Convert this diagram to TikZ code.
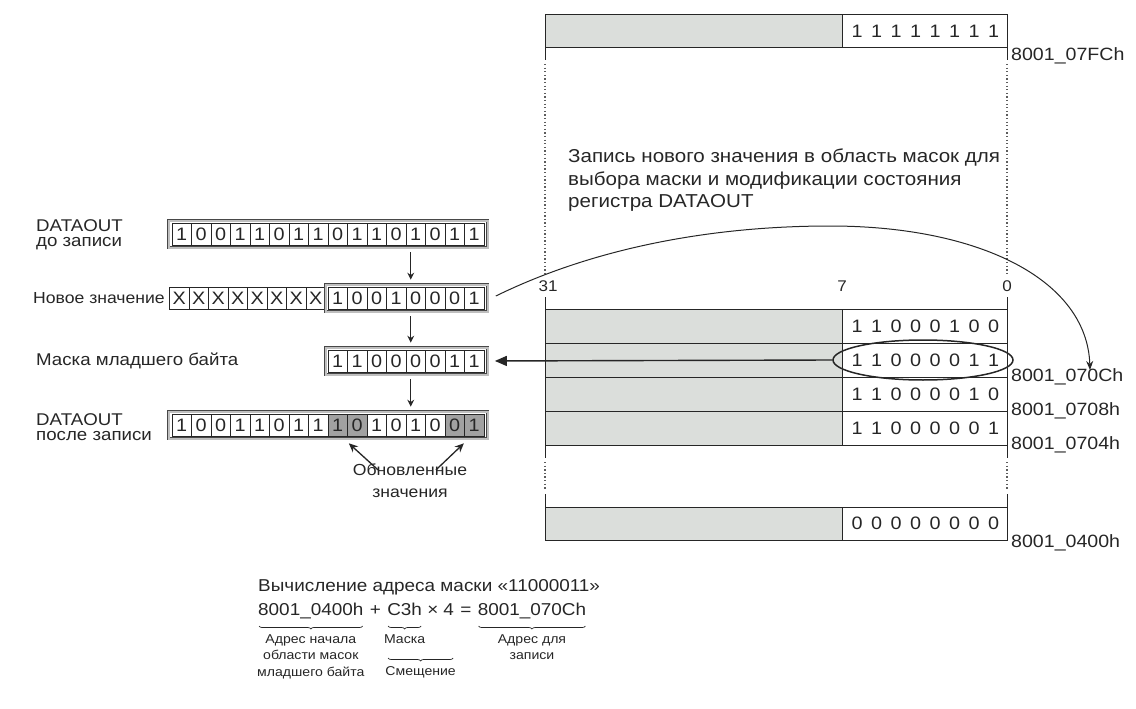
\documentclass[tikz,border=0pt]{standalone}
\usepackage{fontspec}
\setmainfont{Liberation Sans}[FakeStretch=1.1]
\usetikzlibrary{arrows.meta,decorations.pathreplacing,calc,shapes.geometric}
\definecolor{ink}{gray}{0.15}
\definecolor{memgray}{rgb}{0.86,0.87,0.86}
\definecolor{framegray}{gray}{0.75}
\definecolor{hlgray}{gray}{0.63}
\newcommand\memrowdraw[3]{%
  \fill[memgray] (545,#1) rectangle (842,#2);
  \draw[mem] (545,#1) rectangle (1007,#2);
  \draw[mem] (842,#1) -- (842,#2);
  \foreach \d [count=\i] in {#3} \node[dig] at ({857+19.5*(\i-1)},{(#1+#2)/2}) {\d};
}
\begin{document}
\begin{tikzpicture}[x=1pt,y=-1pt,
 lbl/.style={font=\fontsize{17}{15}\selectfont,text=ink,inner sep=0pt},
 note/.style={font=\fontsize{18.7}{22.5}\selectfont,text=ink,inner sep=0pt},
 sm/.style={font=\fontsize{17.2}{18}\selectfont,text=ink,inner sep=0pt},
 tiny/.style={font=\fontsize{12.8}{16.5}\selectfont,text=ink,inner sep=0pt,align=center},
 cell/.style={draw=ink,line width=0.7pt,fill=white,minimum width=19.5pt,minimum height=22pt,inner sep=0pt,font=\fontsize{18}{18}\selectfont,text=ink},
 hl/.style={fill=hlgray},
 nohl/.style={},
 regframe/.style={draw=ink!85,line width=0.7pt,double=framegray,double distance=2pt,fill=white,inner sep=0pt,minimum height=27pt},
 dn/.style={-{Stealth[length=7pt,width=7pt]},line width=1.2pt,draw=ink},
 upar/.style={-{Stealth[length=9pt,width=8pt]},line width=1.3pt,draw=ink},
 harr/.style={-{Triangle[length=12pt,width=10pt]},line width=1.4pt,draw=ink},
 carr/.style={-{Stealth[length=9pt,width=7pt]},line width=1pt,draw=ink},
 mem/.style={draw=ink,line width=1pt},
 dotl/.style={draw=ink!75,line width=1.3pt,dash pattern=on 1.3pt off 2.3pt},
 dig/.style={font=\fontsize{18}{18}\selectfont,text=ink,inner sep=0pt},
 addr/.style={font=\fontsize{17.8}{18}\selectfont,text=ink,inner sep=0pt,anchor=west},
 brc/.style={draw=ink,line width=0.7pt,decorate,decoration={brace,mirror,amplitude=3pt}}
]
\useasboundingbox (0,0) rectangle (1136,709);

% ---------- left: registers ----------
\node[regframe,minimum width=319pt] (r1) at (328,234) {};
\foreach \b [count=\i] in {1,0,0,1,1,0,1,1,0,1,1,0,1,0,1,1}
  \node[cell] (r1c\i) at ({172+19.5*(\i-0.5)},234) {\b};

\foreach \b [count=\i] in {X,X,X,X,X,X,X,X}
  \node[cell] (r2x\i) at ({169.5+19.5*(\i-0.5)},298) {\b};
\node[regframe,minimum width=162pt] (r2) at (406.5,298) {};
\foreach \b [count=\i] in {1,0,0,1,0,0,0,1}
  \node[cell] (r2c\i) at ({328+19.5*(\i-0.5)},298) {\b};

\node[regframe,minimum width=162pt] (r3) at (406.5,361) {};
\foreach \b [count=\i] in {1,1,0,0,0,0,1,1}
  \node[cell] (r3c\i) at ({328+19.5*(\i-0.5)},361) {\b};

\node[regframe,minimum width=319pt] (r4) at (328,425) {};
\foreach \b/\s [count=\i] in {1/nohl,0/nohl,0/nohl,1/nohl,1/nohl,0/nohl,1/nohl,1/nohl,1/hl,0/hl,1/nohl,0/nohl,1/nohl,0/nohl,0/hl,1/hl}
  \node[cell,\s] (r4c\i) at ({172+19.5*(\i-0.5)},425) {\b};

% labels
\node[lbl,anchor=west,align=left] (t1) at (36,235) {DATAOUT\\до записи};
\node[lbl,anchor=east,font=\fontsize{16}{15}\selectfont] (t2) at (165,298) {Новое значение};
\node[lbl,anchor=west] (t3) at (36,361) {Маска младшего байта};
\node[lbl,anchor=west,align=left] (t4) at (36,427) {DATAOUT\\после записи};
\node[lbl,align=center,font=\fontsize{16}{22}\selectfont] (upd) at (410,481) {Обновленные\\значения};

% down arrows
\draw[dn] ($(r1c13.south)+(-5,7)$) -- ($(r2c5.north)+(-5,-7)$);
\draw[dn] ($(r2c5.south)+(-5,7)$) -- ($(r3c5.north)+(-5,-7)$);
\draw[dn] ($(r3c5.south)+(-5,7)$) -- ($(r4c13.north)+(-5,-7)$);
% arrows to updated bits
\draw[upar] ($(upd.north)+(-32,6)$) -- ($(r4c9.south east)+(1,7)$);
\draw[upar] ($(upd.north)+(26,6)$) -- ($(r4c15.south east)+(-1,7)$);

% ---------- right: memory map ----------
\memrowdraw{15}{48}{1,1,1,1,1,1,1,1}
\memrowdraw{309}{343}{1,1,0,0,0,1,0,0}
\memrowdraw{343}{377}{1,1,0,0,0,0,1,1}
\memrowdraw{377}{411}{1,1,0,0,0,0,1,0}
\memrowdraw{411}{445}{1,1,0,0,0,0,0,1}
\memrowdraw{507}{540}{0,0,0,0,0,0,0,0}

\foreach \x in {545,1007}{
  \draw[mem] (\x,48) -- (\x,60);
  \draw[dotl] (\x,64) -- (\x,276);
  \draw[mem] (\x,297) -- (\x,309);
  \draw[mem] (\x,445) -- (\x,458);
  \draw[dotl] (\x,462) -- (\x,490);
  \draw[mem] (\x,494) -- (\x,507);
}
\node[lbl,font=\fontsize{15.5}{15}\selectfont] (b31) at (548,286) {31};
\node[lbl,font=\fontsize{15.5}{15}\selectfont] (b7) at (842,286) {7};
\node[lbl,font=\fontsize{15.5}{15}\selectfont] (b0) at (1007,286) {0};

\node[addr] (a07FC) at (1011,56) {8001\_07FCh};
\node[addr] (a070C) at (1011,377) {8001\_070Ch};
\node[addr] (a0708) at (1011,411) {8001\_0708h};
\node[addr] (a0704) at (1011,445) {8001\_0704h};
\node[addr] (a0400) at (1011,543) {8001\_0400h};

\node[draw=ink,line width=1.5pt,ellipse,minimum width=180pt,minimum height=40pt] (ell) at (923,360) {};

\node[note,anchor=north west,align=left] (nt) at (568,149) {Запись нового значения в область масок для\\выбора маски и модификации состояния\\регистра DATAOUT};

% arrows
\draw[harr,shorten >=7pt] (ell.west) -- (r3.east);
\coordinate (tip) at (1090,370);
\draw[carr] ($(r2.east)+(8,-2)$) .. controls (600,245) and (720,226) .. (830,226)
   .. controls (980,226) and (1087,280) .. (tip);

% ---------- bottom: address computation ----------
\node[sm,anchor=base west] (calc) at (258,591) {Вычисление адреса маски «11000011»};
\node[sm,anchor=base west] (f1) at (258,615) {8001\_0400h};
\node[sm,anchor=base west] (pl) at (f1.base east) {\kern6pt+\kern6pt};
\node[sm,anchor=base west] (f2) at (pl.base east) {C3h};
\node[sm,anchor=base west] (f3) at (f2.base east) {\kern5pt×\kern5pt4};
\node[sm,anchor=base west] (eq) at (f3.base east) {\kern6pt=\kern6pt};
\node[sm,anchor=base west] (f4) at (eq.base east) {8001\_070Ch};

\coordinate (by) at ($(f1.base)+(0,11)$);
\draw[brc] ($(f1.west |- by)+(1,0)$) -- ($(f1.east |- by)+(-1,0)$);
\draw[brc] ($(f2.west |- by)+(1,0)$) -- ($(f2.east |- by)+(-1,0)$);
\draw[brc] ($(f4.west |- by)+(1,0)$) -- ($(f4.east |- by)+(-1,0)$);
\node[tiny,anchor=north] (l1) at ($(f1.center |- by)+(0,8)$) {Адрес начала\\области масок\\младшего байта};
\node[tiny,anchor=north] (l2) at ($(f2.center |- by)+(0,8)$) {Маска};
\node[tiny,anchor=north] (l4) at ($(f4.center |- by)+(0,8)$) {Адрес для\\записи};
\coordinate (s1) at ($(f2.west |- by)+(1,32)$);
\coordinate (s2) at ($(f3.east |- by)+(-1,32)$);
\draw[brc] (s1) -- (s2);
\node[tiny,anchor=north] (l3) at ($(s1)!0.5!(s2)+(0,8)$) {Смещение};
\end{tikzpicture}
\end{document}
